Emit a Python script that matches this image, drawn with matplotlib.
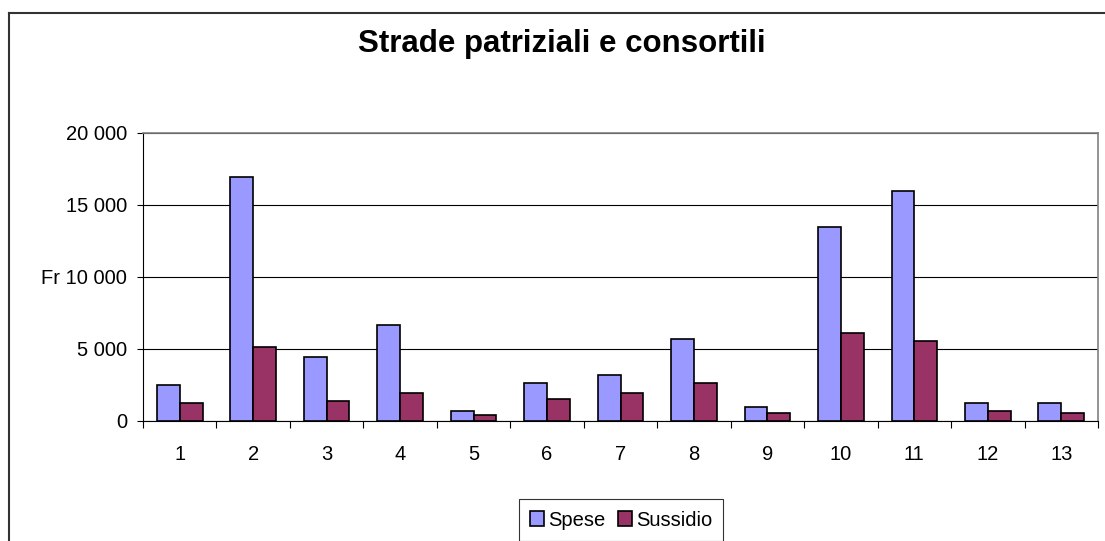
import numpy as np
from matplotlib import pyplot as plt
from matplotlib.lines import Line2D

plt.rcParams['font.family'] = ['Liberation Sans', 'DejaVu Sans']

categories = ['1', '2', '3', '4', '5', '6', '7', '8', '9', '10', '11', '12', '13']
spese = [2500, 16950, 4450, 6670, 700, 2640, 3200, 5700, 970, 13490, 16000, 1250, 1250]
sussidio = [1250, 5150, 1400, 1970, 420, 1530, 1950, 2640, 560, 6120, 5560, 700, 560]
y_ticks = [0, 5000, 10000, 15000, 20000]
y_labels = ['0', '5 000', 'Fr 10 000', '15 000', '20 000']

fig = plt.figure(figsize=(11.05, 5.41), dpi=100)
ax = fig.add_axes([143 / 1105, 1 - 421 / 541, 955 / 1105, 288 / 541])

x = np.arange(len(categories))
w = 0.31
ax.bar(x - w / 2, spese, w, color='#9999FF', edgecolor='black', linewidth=1.2,
       label='Spese', zorder=3)
ax.bar(x + w / 2, sussidio, w, color='#993366', edgecolor='black', linewidth=1.2,
       label='Sussidio', zorder=3)

ax.set_xlim(-0.5, len(categories) - 0.5)
ax.set_ylim(0, 20000)
ax.set_yticks(y_ticks)
ax.set_yticklabels(y_labels, fontsize=14.5)
ax.set_xticks(x)
ax.set_xticklabels(categories, fontsize=14.5)
ax.set_xticks(np.arange(len(categories) + 1) - 0.5, minor=True)
ax.tick_params(axis='x', which='major', length=0, pad=17)
ax.tick_params(axis='x', which='minor', length=5, direction='out', width=0.8)
ax.tick_params(axis='y', length=4.5, direction='out', width=0.8, pad=7)
ax.yaxis.grid(True, color='black', linewidth=0.8, zorder=0)

for s in ['top', 'right']:
    ax.spines[s].set_color('#808080')
    ax.spines[s].set_linewidth(1.2)
for s in ['left', 'bottom']:
    ax.spines[s].set_linewidth(0.8)

fig.text(562 / 1105, 1 - 44 / 541, 'Strade patriziali e consortili',
         ha='center', va='center', fontsize=22.5, fontweight='bold')

leg = fig.legend(loc='center', bbox_to_anchor=(621 / 1105, 1 - 520 / 541),
                 ncol=2, fontsize=14.5, frameon=True, fancybox=False,
                 edgecolor='black', handlelength=0.7, handleheight=0.7,
                 handletextpad=0.2, columnspacing=0.6, borderpad=0.55)
leg.get_frame().set_linewidth(0.8)

# outer chart frame (cut at right and bottom edges)
fig.add_artist(Line2D([8.5 / 1105, 8.5 / 1105], [0, 1 - 13 / 541],
                      transform=fig.transFigure, color='#333333', linewidth=1.5))
fig.add_artist(Line2D([8.5 / 1105, 1], [1 - 13 / 541, 1 - 13 / 541],
                      transform=fig.transFigure, color='#333333', linewidth=1.5))

fig.savefig('out.png', dpi=100)
